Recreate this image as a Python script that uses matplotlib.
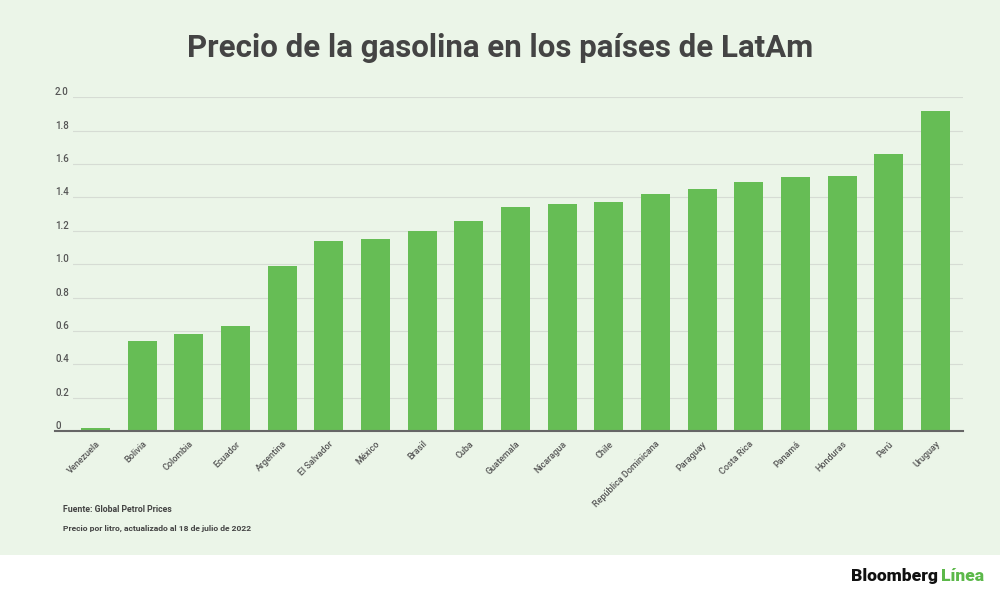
import matplotlib.pyplot as plt
from matplotlib.lines import Line2D
from matplotlib.patches import Rectangle
import matplotlib.transforms as mtransforms

# Precio por litro (USD)
paises = ["Venezuela", "Bolivia", "Colombia", "Ecuador", "Argentina", "El Salvador",
          "México", "Brasil", "Cuba", "Guatemala", "Nicaragua", "Chile",
          "República Dominicana", "Paraguay", "Costa Rica", "Panamá", "Honduras",
          "Perú", "Uruguay"]
precios = [0.02, 0.54, 0.58, 0.63, 0.99, 1.14, 1.15, 1.20, 1.26, 1.34, 1.36, 1.37,
           1.42, 1.45, 1.49, 1.52, 1.53, 1.66, 1.92]
yticks = [0, 0.2, 0.4, 0.6, 0.8, 1.0, 1.2, 1.4, 1.6, 1.8, 2.0]
ytick_labels = ["0", "0.2", "0.4", "0.6", "0.8", "1.0", "1.2", "1.4", "1.6", "1.8", "2.0"]

plt.rcParams['font.family'] = ['Roboto', 'DejaVu Sans']

bg = "#ebf5e8"
bar_color = "#66bd55"
txt = "#444444"

fig = plt.figure(figsize=(10, 5.96), dpi=100)
fig.patch.set_facecolor("white")
# fondo verde claro hasta y=555 px
fig.patches.append(Rectangle((0, (596 - 555) / 596), 1, 555 / 596,
                             transform=fig.transFigure, facecolor=bg,
                             edgecolor="none", zorder=-5))

ax = fig.add_axes([0.073, (596 - 431) / 596, 0.890, (431 - 97.3) / 596])
ax.set_facecolor("none")
x = range(len(paises))
ax.bar(x, precios, width=0.62, color=bar_color, zorder=3)
ax.set_xlim(-0.482, len(paises) - 1 + 0.589)
ax.set_ylim(0, 2.0)

for s in ax.spines.values():
    s.set_visible(False)
ax.set_yticks([])
ax.set_xticks(list(x))
ax.set_xticklabels(paises, rotation=45, ha="right", va="top",
                   rotation_mode="anchor", fontsize=6.5, fontweight="medium",
                   color="#555555")
ax.tick_params(axis="x", length=0, pad=6)

for v in yticks[1:]:
    ax.axhline(v, color="#d6dcd4", lw=0.8, zorder=1)

# etiquetas del eje y, encima de la línea de la cuadrícula
trans = mtransforms.blended_transform_factory(fig.transFigure, ax.transData)
for v, lab in zip(yticks, ytick_labels):
    ax.text(0.055, v, lab, transform=trans, ha="left", va="bottom",
            fontsize=7, fontweight="medium", color="#555555")

# línea base
fig.add_artist(Line2D([0.055, 0.963], [(596 - 431) / 596] * 2,
                      transform=fig.transFigure, color="#666666", lw=1.5))

fig.text(0.5, 1 - 48 / 596, "Precio de la gasolina en los países de LatAm",
         ha="center", va="center", fontsize=22.5, fontweight="bold", color=txt)

fig.text(0.063, 1 - 510 / 596, "Fuente: Global Petrol Prices", ha="left",
         va="center", fontsize=6.3, fontweight="bold", color=txt)
fig.text(0.063, 1 - 528 / 596, "Precio por litro, actualizado al 18 de julio de 2022",
         ha="left", va="center", fontsize=6.1, fontweight="bold", color=txt)

fig.text(0.938, 1 - 576 / 596, "Bloomberg", ha="right", va="center",
         fontsize=12.5, fontweight="heavy", color="#111111")
fig.text(0.941, 1 - 576 / 596, "Línea", ha="left", va="center",
         fontsize=12.5, fontweight="heavy", color="#5cb84a")

fig.savefig("out.png", dpi=100, facecolor=fig.get_facecolor())
